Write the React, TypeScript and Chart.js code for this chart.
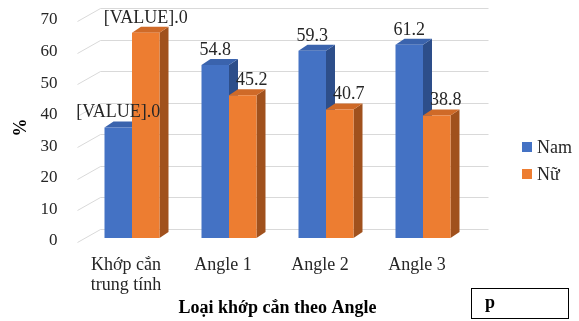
import React, { useEffect, useRef } from "react";
import { Chart, registerables } from "chart.js";

Chart.register(...registerables);

const categories: (string | string[])[] = [["Khớp cắn", "trung tính"], "Angle 1", "Angle 2", "Angle 3"];
const seriesNames = ["Nam", "Nữ"];
const namValues = [35, 54.8, 59.3, 61.2];
const nuValues = [65, 45.2, 40.7, 38.8];
const namLabels = ["[VALUE].0", "54.8", "59.3", "61.2"];
const nuLabels = ["[VALUE].0", "45.2", "40.7", "38.8"];
const yMin = 0;
const yMax = 70;
const yStep = 10;
const xTitle = "Loại khớp cắn theo Angle";
const yTitle = "%";
const boxText = "p";

const FONT = "'Liberation Serif', 'Times New Roman', serif";
const TEXT = "#262626";
const frontColors = ["#4472C4", "#ED7D31"];
const topColors = ["#3A63AD", "#CF6A28"];
const sideColors = ["#2D4E8A", "#A0511D"];
const GRID = "#D9D9D9";

const threeD = {
  id: "threeD",
  beforeDatasetsDraw(chart: any) {
    const { ctx, chartArea: ca, scales } = chart;
    const y = scales.y;
    ctx.save();
    ctx.strokeStyle = GRID;
    ctx.lineWidth = 1;
    y.ticks.forEach((t: any) => {
      const py = Math.round(y.getPixelForValue(t.value)) + 0.5;
      ctx.beginPath();
      ctx.moveTo(ca.left - 6, py + 4);
      ctx.lineTo(ca.left + 17, py - 9);
      ctx.lineTo(ca.right + 17, py - 9);
      ctx.stroke();
    });
    ctx.fillStyle = TEXT;
    ctx.font = `17px ${FONT}`;
    ctx.textAlign = "right";
    ctx.textBaseline = "middle";
    y.ticks.forEach((t: any) => {
      ctx.fillText(String(t.value), ca.left - 26, y.getPixelForValue(t.value) + 3);
    });
    const DX = 9, DY = -6;
    chart.data.datasets.forEach((_ds: any, di: number) => {
      const meta = chart.getDatasetMeta(di);
      meta.data.forEach((bar: any) => {
        const { x, y: top, base, width } = bar.getProps(["x", "y", "base", "width"], true);
        const xl = x - width / 2;
        const xr = x + width / 2;
        ctx.fillStyle = sideColors[di];
        ctx.beginPath();
        ctx.moveTo(xr, top);
        ctx.lineTo(xr + DX, top + DY);
        ctx.lineTo(xr + DX, base + DY);
        ctx.lineTo(xr, base);
        ctx.closePath();
        ctx.fill();
        ctx.fillStyle = topColors[di];
        ctx.beginPath();
        ctx.moveTo(xl, top);
        ctx.lineTo(xr, top);
        ctx.lineTo(xr + DX, top + DY);
        ctx.lineTo(xl + DX, top + DY);
        ctx.closePath();
        ctx.fill();
      });
    });
    ctx.restore();
  },
  afterDatasetsDraw(chart: any) {
    const { ctx } = chart;
    ctx.save();
    ctx.font = `18px ${FONT}`;
    ctx.fillStyle = TEXT;
    ctx.textAlign = "center";
    ctx.textBaseline = "middle";
    const labelSets = [namLabels, nuLabels];
    chart.data.datasets.forEach((ds: any, di: number) => {
      const meta = chart.getDatasetMeta(di);
      meta.data.forEach((bar: any, i: number) => {
        const { x, y } = bar.getProps(["x", "y"], true);
        let shift = 0;
        if (di === 1 && namValues[i] > ds.data[i]) shift = 9;
        ctx.fillText(labelSets[di][i], x + shift, y - 15);
      });
    });
    ctx.restore();
  },
  afterDraw(chart: any) {
    const { ctx } = chart;
    ctx.save();
    ctx.font = `18px ${FONT}`;
    ctx.textBaseline = "middle";
    ctx.textAlign = "left";
    const ly = [147, 174];
    seriesNames.forEach((n, i) => {
      ctx.fillStyle = frontColors[i];
      ctx.fillRect(522, ly[i] - 5, 10, 10);
      ctx.fillStyle = TEXT;
      ctx.fillText(n, 537, ly[i] + 1);
    });
    ctx.strokeStyle = "#000";
    ctx.lineWidth = 1;
    ctx.strokeRect(471.5, 288.5, 97, 30);
    ctx.fillStyle = "#000";
    ctx.font = `bold 18px ${FONT}`;
    ctx.fillText(boxText, 485, 303);
    ctx.restore();
  },
};

export default function App() {
  const ref = useRef<HTMLCanvasElement | null>(null);
  useEffect(() => {
    if (!ref.current) return;
    const chart = new Chart(ref.current, {
      type: "bar",
      data: {
        labels: categories,
        datasets: [
          {
            label: seriesNames[0],
            data: namValues,
            backgroundColor: frontColors[0],
            categoryPercentage: 0.567,
            barPercentage: 1,
          },
          {
            label: seriesNames[1],
            data: nuValues,
            backgroundColor: frontColors[1],
            categoryPercentage: 0.567,
            barPercentage: 1,
          },
        ],
      },
      options: {
        animation: false,
        responsive: true,
        maintainAspectRatio: false,
        layout: { padding: { left: 10.4, right: 107.5, top: 17, bottom: 0 } },
        plugins: { legend: { display: false }, tooltip: { enabled: false } },
        scales: {
          x: {
            grid: { display: false, drawTicks: false },
            border: { display: false },
            afterFit: (scale: any) => {
              scale.height = 83;
            },
            ticks: {
              padding: 18,
              labelOffset: -6,
              color: TEXT,
              font: { family: FONT, size: 18, lineHeight: 1.08 },
            },
            title: {
              display: true,
              text: xTitle,
              color: "#000",
              font: { family: FONT, size: 18, weight: "bold", lineHeight: 1.2 },
              padding: { top: 2, bottom: 2 },
            },
          },
          y: {
            min: yMin,
            max: yMax,
            grid: { display: false, drawTicks: false },
            border: { display: false },
            ticks: { stepSize: yStep, display: false },
            title: {
              display: true,
              text: yTitle,
              color: "#000",
              font: { family: FONT, size: 18, weight: "bold", lineHeight: 1.2 },
              padding: { top: 0, bottom: 51.5 },
            },
          },
        },
      },
      plugins: [threeD],
    });
    return () => chart.destroy();
  }, []);
  return (
    <div style={{ position: "fixed", left: 0, top: 0, width: 579, height: 321, background: "#fff" }}>
      <canvas ref={ref} />
    </div>
  );
}
